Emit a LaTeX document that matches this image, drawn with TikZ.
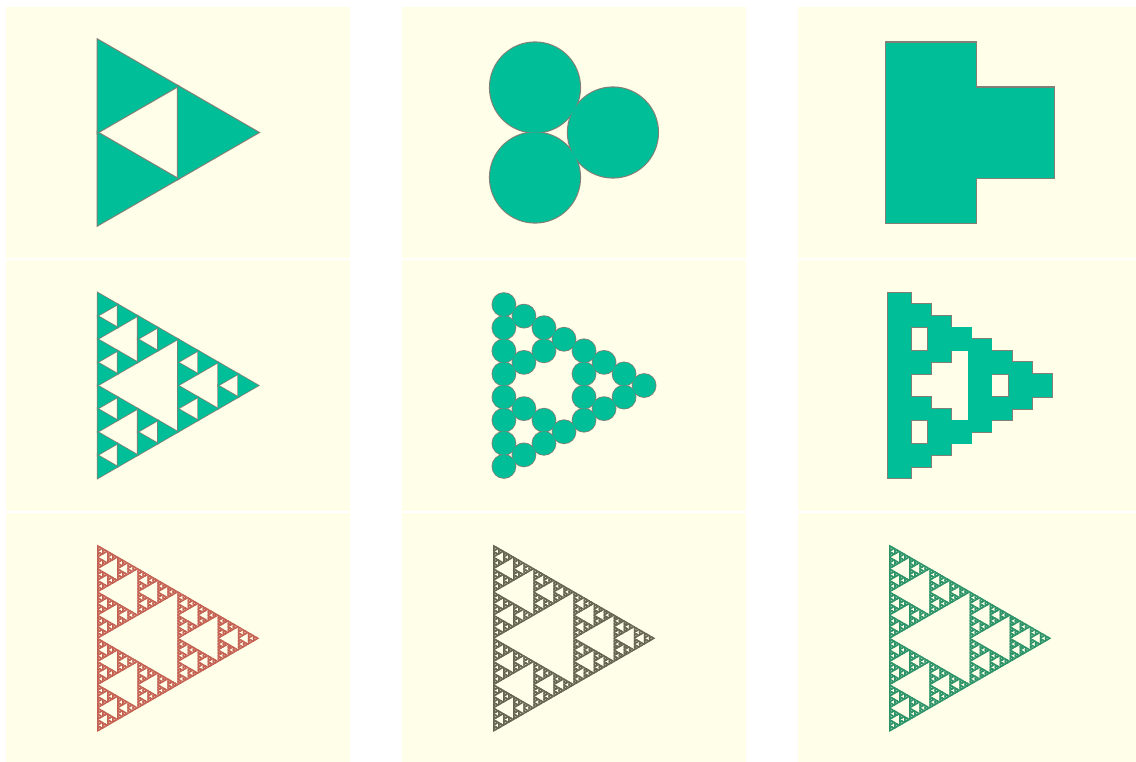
\documentclass[tikz,border=0pt]{standalone}
\usetikzlibrary{calc}
\definecolor{bgc}{RGB}{255,254,232}
\definecolor{tealc}{RGB}{0,190,152}
\definecolor{edgec}{RGB}{128,128,118}
\definecolor{redline}{RGB}{196,96,82}
\definecolor{redfill}{RGB}{228,172,152}
\definecolor{oliveline}{RGB}{100,100,80}
\definecolor{olivefill}{RGB}{172,170,142}
\definecolor{greenline}{RGB}{44,146,104}
\definecolor{greenfill}{RGB}{112,192,154}
\tikzset{
  panel/.style={fill=bgc,draw=none},
  outl/.style={draw=edgec,line width=2.2pt,line join=miter},
  outlthin/.style={draw=edgec,line width=1.6pt,line join=miter},
  tealfill/.style={fill=tealc,draw=none},
  redtri/.style={fill=redfill,draw=redline,line width=0.95pt},
  olivetri/.style={fill=olivefill,draw=oliveline,line width=0.95pt},
  greentri/.style={fill=greenfill,draw=greenline,line width=0.95pt}
}
\newcommand\leaftri[4]{\path[#1] (#2,#3) -- ++(0,#4) -- ++({0.8660254*#4},{-0.5*#4}) -- cycle;}
\newcommand\leafcirc[4]{\path[#1] ({#2+#4/2},{#3+#4/2}) circle[radius={#4/2}];}
\newcommand\leafsq[4]{\path[#1] (#2,#3) rectangle ++(#4,#4);}
% #1 kind, #2 style, #3 level, #4 x, #5 y, #6 side
\newcommand\sierpfig[6]{%
  \ifnum#3=0\relax
    \csname leaf#1\endcsname{#2}{#4}{#5}{#6}%
  \else
    \begingroup
    \pgfmathtruncatemacro\sLev{#3-1}%
    \pgfmathsetmacro\sHalf{#6/2}%
    \pgfmathsetmacro\sYb{#5+#6/2}%
    \pgfmathsetmacro\sXr{#4+0.4330127*#6}%
    \pgfmathsetmacro\sYr{#5+#6/4}%
    \edef\sNext{%
      \noexpand\sierpfig{#1}{#2}{\sLev}{#4}{#5}{\sHalf}%
      \noexpand\sierpfig{#1}{#2}{\sLev}{#4}{\sYb}{\sHalf}%
      \noexpand\sierpfig{#1}{#2}{\sLev}{\sXr}{\sYr}{\sHalf}}%
    \sNext
    \endgroup
  \fi}
\begin{document}
\begin{tikzpicture}[x=1pt,y=-1pt]
\useasboundingbox (0,0) rectangle (1136,761);
\fill[white] (0,0) rectangle (1136,761);
% panels
\foreach \px in {6,402,798}{
  \foreach \py/\ph in {7/251,260/251,513/251}{
    \path[panel] (\px,\py) rectangle ++(344,\ph);
  }
}
% row 1
\sierpfig{tri}{outl}{1}{97.6}{39.7}{185.6}
\sierpfig{tri}{tealfill}{1}{97.6}{39.7}{185.6}
\sierpfig{circ}{outl}{1}{490}{42.5}{180}
\sierpfig{circ}{tealfill}{1}{490}{42.5}{180}
\sierpfig{sq}{outl}{1}{886}{42.5}{180}
\sierpfig{sq}{tealfill}{1}{886}{42.5}{180}
% row 2
\sierpfig{tri}{outlthin}{3}{97.6}{292.7}{185.6}
\sierpfig{tri}{tealfill}{3}{97.6}{292.7}{185.6}
\sierpfig{circ}{outlthin}{3}{492.35}{293}{185}
\sierpfig{circ}{tealfill}{3}{492.35}{293}{185}
\sierpfig{sq}{outlthin}{3}{888.05}{292.65}{185.7}
\sierpfig{sq}{tealfill}{3}{888.05}{292.65}{185.7}
% row 3
\sierpfig{tri}{redtri}{6}{97.6}{545.5}{185.6}
\sierpfig{tri}{olivetri}{6}{493.6}{545.5}{185.6}
\sierpfig{tri}{greentri}{6}{889.6}{545.5}{185.6}
\end{tikzpicture}
\end{document}
